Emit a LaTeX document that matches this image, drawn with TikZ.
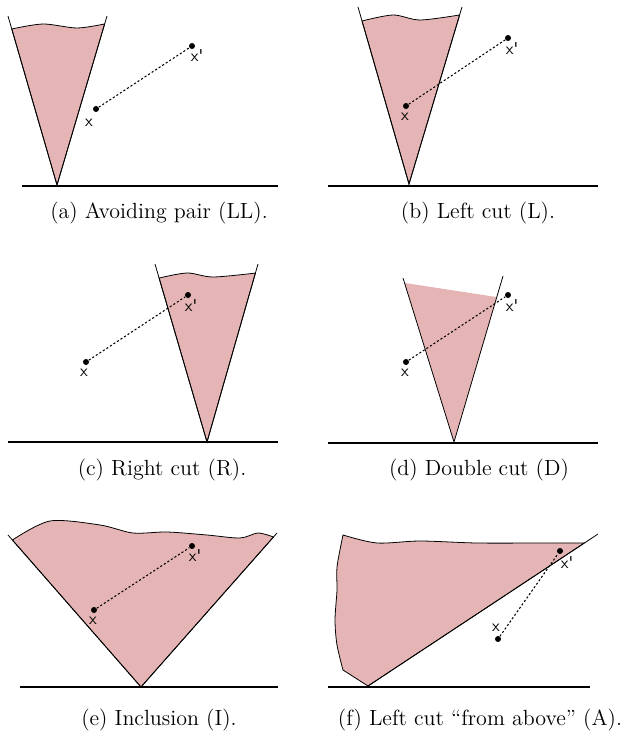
\documentclass[tikz,border=0pt]{standalone}
\usepackage{tikz}
\usetikzlibrary{calc}
\definecolor{conepink}{RGB}{229,181,181}
\tikzset{
  conefill/.style={fill=conepink, draw=black, line width=0.45pt},
  conefillonly/.style={fill=conepink},
  rayline/.style={draw=black, line width=0.45pt},
  groundline/.style={draw=black, line width=1pt},
  pairline/.style={draw=black, line width=0.6pt, dash pattern=on 1.2pt off 1.2pt},
  ptdot/.style={circle, fill=black, inner sep=0pt, minimum size=0.12cm},
  ptlabel/.style={font=\sffamily\fontsize{9.5}{11}\selectfont, inner sep=0pt},
  subcap/.style={font=\fontsize{12.5}{15}\selectfont, inner sep=0pt},
}
\newcommand{\xprime}{x\textquotesingle}
\begin{document}
\begin{tikzpicture}[x=0.02cm,y=-0.02cm]
  \useasboundingbox (0,0) rectangle (629,733);

  % (a) avoiding pair
  \coordinate (a-o) at (57,185);
  \coordinate (a-l) at (8,16);
  \coordinate (a-r) at (107,16);
  \coordinate (a-wl) at ($(a-o)!0.923!(a-l)$);
  \coordinate (a-wr) at ($(a-o)!0.953!(a-r)$);
  \filldraw[conefill] (a-o) -- plot[smooth] coordinates {(a-wl) (43,24) (77,28) (a-wr)} -- cycle;
  \draw[rayline] (a-l) -- (a-o) -- (a-r);
  \draw[groundline] (22,186) -- (278,186);
  \node[ptdot] (a-x) at (96,109) {};
  \node[ptdot] (a-xp) at (192,46) {};
  \draw[pairline] (a-x) -- (a-xp);
  \node[ptlabel] (a-xl) at (89,123) {x};
  \node[ptlabel] (a-xpl) at (197,56) {\xprime};
  \node[subcap] (a-cap) at (159,213) {(a) Avoiding pair (LL).};

  % (b) left cut
  \coordinate (b-o) at (409,184);
  \coordinate (b-l) at (358,7);
  \coordinate (b-r) at (462,7);
  \coordinate (b-wl) at ($(b-o)!0.921!(b-l)$);
  \coordinate (b-wr) at ($(b-o)!0.955!(b-r)$);
  \filldraw[conefill] (b-o) -- plot[smooth] coordinates {(b-wl) (393,15) (420,20) (b-wr)} -- cycle;
  \draw[rayline] (b-l) -- (b-o) -- (b-r);
  \draw[groundline] (328,186) -- (598,186);
  \node[ptdot] (b-x) at (406,106) {};
  \node[ptdot] (b-xp) at (508,38) {};
  \draw[pairline] (b-x) -- (b-xp);
  \node[ptlabel] (b-xl) at (405,117) {x};
  \node[ptlabel] (b-xpl) at (512,49) {\xprime};
  \node[subcap] (b-cap) at (478,213) {(b) Left cut (L).};

  % (c) right cut
  \coordinate (c-o) at (207,442);
  \coordinate (c-l) at (155,264);
  \coordinate (c-r) at (258,264);
  \coordinate (c-wl) at ($(c-o)!0.921!(c-l)$);
  \coordinate (c-wr) at ($(c-o)!0.949!(c-r)$);
  \filldraw[conefill] (c-o) -- plot[smooth] coordinates {(c-wl) (187,273) (213,277) (c-wr)} -- cycle;
  \draw[rayline] (c-l) -- (c-o) -- (c-r);
  \draw[groundline] (8,442) -- (278,442);
  \node[ptdot] (c-x) at (86,362) {};
  \node[ptdot] (c-xp) at (188,295) {};
  \draw[pairline] (c-x) -- (c-xp);
  \node[ptlabel] (c-xl) at (84,373) {x};
  \node[ptlabel] (c-xpl) at (191,306) {\xprime};
  \node[subcap] (c-cap) at (162,470) {(c) Right cut (R).};

  % (d) double cut
  \coordinate (d-o) at (454,442);
  \coordinate (d-l) at (403,278);
  \coordinate (d-r) at (503,276);
  \coordinate (d-wl) at ($(d-o)!0.970!(d-l)$);
  \coordinate (d-wr) at ($(d-o)!0.873!(d-r)$);
  \fill[conefillonly] (d-o) -- (d-wl) -- (d-wr) -- cycle;
  \draw[rayline] (d-l) -- (d-o) -- (d-r);
  \draw[groundline] (328,443) -- (598,443);
  \node[ptdot] (d-x) at (406,362) {};
  \node[ptdot] (d-xp) at (508,295) {};
  \draw[pairline] (d-x) -- (d-xp);
  \node[ptlabel] (d-xl) at (405,373) {x};
  \node[ptlabel] (d-xpl) at (512,306) {\xprime};
  \node[subcap] (d-cap) at (479,470) {(d) Double cut (D)};

  % (e) inclusion
  \coordinate (e-o) at (141,687);
  \coordinate (e-l) at (8,535);
  \coordinate (e-r) at (277,533);
  \coordinate (e-wl) at ($(e-o)!0.967!(e-l)$);
  \coordinate (e-wr) at ($(e-o)!0.974!(e-r)$);
  \filldraw[conefill] (e-o) -- plot[smooth] coordinates {(e-wl) (50,521) (100,525) (133,533) (167,532) (207,535) (240,538) (258,533) (e-wr)} -- cycle;
  \draw[rayline] (e-l) -- (e-o) -- (e-r);
  \draw[groundline] (20,687) -- (278,687);
  \node[ptdot] (e-x) at (94,610) {};
  \node[ptdot] (e-xp) at (192,546) {};
  \draw[pairline] (e-x) -- (e-xp);
  \node[ptlabel] (e-xl) at (93,621) {x};
  \node[ptlabel] (e-xpl) at (195,556) {\xprime};
  \node[subcap] (e-cap) at (159,720) {(e) Inclusion (I).};

  % (f) left cut from above
  \coordinate (f-o) at (368,686);
  \coordinate (f-r) at (598,534);
  \coordinate (f-wr) at ($(f-o)!0.941!(f-r)$);
  \filldraw[conefill] (f-o) -- (343,670)
    -- plot[smooth] coordinates {(343,670) (337,645) (335,620) (337,590) (337,567) (343,535)}
    -- plot[smooth] coordinates {(343,535) (377,543) (420,541) (477,543) (543,543) (f-wr)} -- cycle;
  \draw[rayline] (f-o) -- (f-r);
  \draw[groundline] (328,687) -- (590,687);
  \node[ptdot] (f-x) at (498,639) {};
  \node[ptdot] (f-xp) at (560,551) {};
  \draw[pairline] (f-x) -- (f-xp);
  \node[ptlabel] (f-xl) at (496,628) {x};
  \node[ptlabel] (f-xpl) at (567,563) {\xprime};
  \node[subcap] (f-cap) at (480,720) {(f) Left cut ``from above'' (A).};
\end{tikzpicture}
\end{document}
